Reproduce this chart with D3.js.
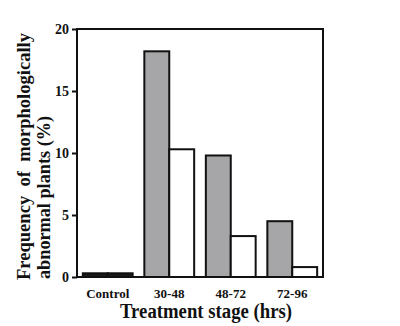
<!DOCTYPE html>
<html><head><meta charset="utf-8">
<script src="https://cdn.jsdelivr.net/npm/d3@7"></script>
<style>body{margin:0;background:#fff}svg{display:block}text{font-family:"Liberation Serif","Times New Roman",serif;font-weight:bold;fill:#111}</style>
</head><body>
<svg id="c" width="400" height="326"></svg>
<script>
const categories = ["Control", "30-48", "48-72", "72-96"];
const seriesShaded = [0.3, 18.2, 9.8, 4.5];
const seriesOpen = [0.3, 10.3, 3.3, 0.8];
const yTicks = [0, 5, 10, 15, 20];

const svg = d3.select("#c");
const L = 77, R = 323, T = 29, B = 277;
const x = d3.scaleBand().domain(categories).range([L, R]).paddingInner(0.19).paddingOuter(0.095);
const sub = d3.scaleBand().domain([0, 1]).range([0, x.bandwidth()]);
const y = d3.scaleLinear().domain([0, 20]).range([B, T]);

// bars
categories.forEach((c, i) => {
  const vals = [seriesShaded[i], seriesOpen[i]];
  vals.forEach((v, j) => {
    const fill = i === 0 ? "#1a1a1a" : (j === 0 ? "#a6a6a8" : "#fff");
    svg.append("rect")
      .attr("x", x(c) + sub(j))
      .attr("y", y(v))
      .attr("width", sub.bandwidth())
      .attr("height", y(0) - y(v))
      .attr("fill", fill)
      .attr("stroke", "#111")
      .attr("stroke-width", 2);
  });
});

// frame
svg.append("rect").attr("x", L).attr("y", T).attr("width", R - L).attr("height", B - T)
  .attr("fill", "none").attr("stroke", "#111").attr("stroke-width", 2);

// y axis
const ya = svg.append("g").attr("transform", `translate(${L},0)`)
  .call(d3.axisLeft(y).tickValues(yTicks).tickSize(5).tickPadding(3));
ya.select(".domain").remove();
ya.selectAll("line").attr("stroke", "#111").attr("stroke-width", 2);
ya.selectAll("text").style("font-size", "14px").style("font-family", "Liberation Serif").style("font-weight", "bold").attr("fill", "#111");

// x axis labels
const xa = svg.append("g").attr("transform", `translate(0,${B})`)
  .call(d3.axisBottom(x).tickSize(0).tickPadding(12));
xa.select(".domain").remove();
xa.selectAll("text").style("font-size", "13px").style("font-family", "Liberation Serif").style("font-weight", "bold").attr("fill", "#111");

// titles
svg.append("text").attr("x", 206).attr("y", 318).attr("text-anchor", "middle")
  .attr("textLength", 172).attr("lengthAdjust", "spacingAndGlyphs")
  .style("font-size", "20px").text("Treatment stage (hrs)");
svg.append("text").attr("transform", "translate(30,280) rotate(-90)").attr("text-anchor", "start")
  .attr("textLength", 247).attr("lengthAdjust", "spacingAndGlyphs")
  .style("white-space", "pre")
  .style("font-size", "19px").text("Frequency  of  morphologically");
svg.append("text").attr("transform", "translate(50,279) rotate(-90)").attr("text-anchor", "start")
  .attr("textLength", 163).attr("lengthAdjust", "spacingAndGlyphs")
  .style("font-size", "19px").text("abnormal plants (%)");
</script>
</body></html>
